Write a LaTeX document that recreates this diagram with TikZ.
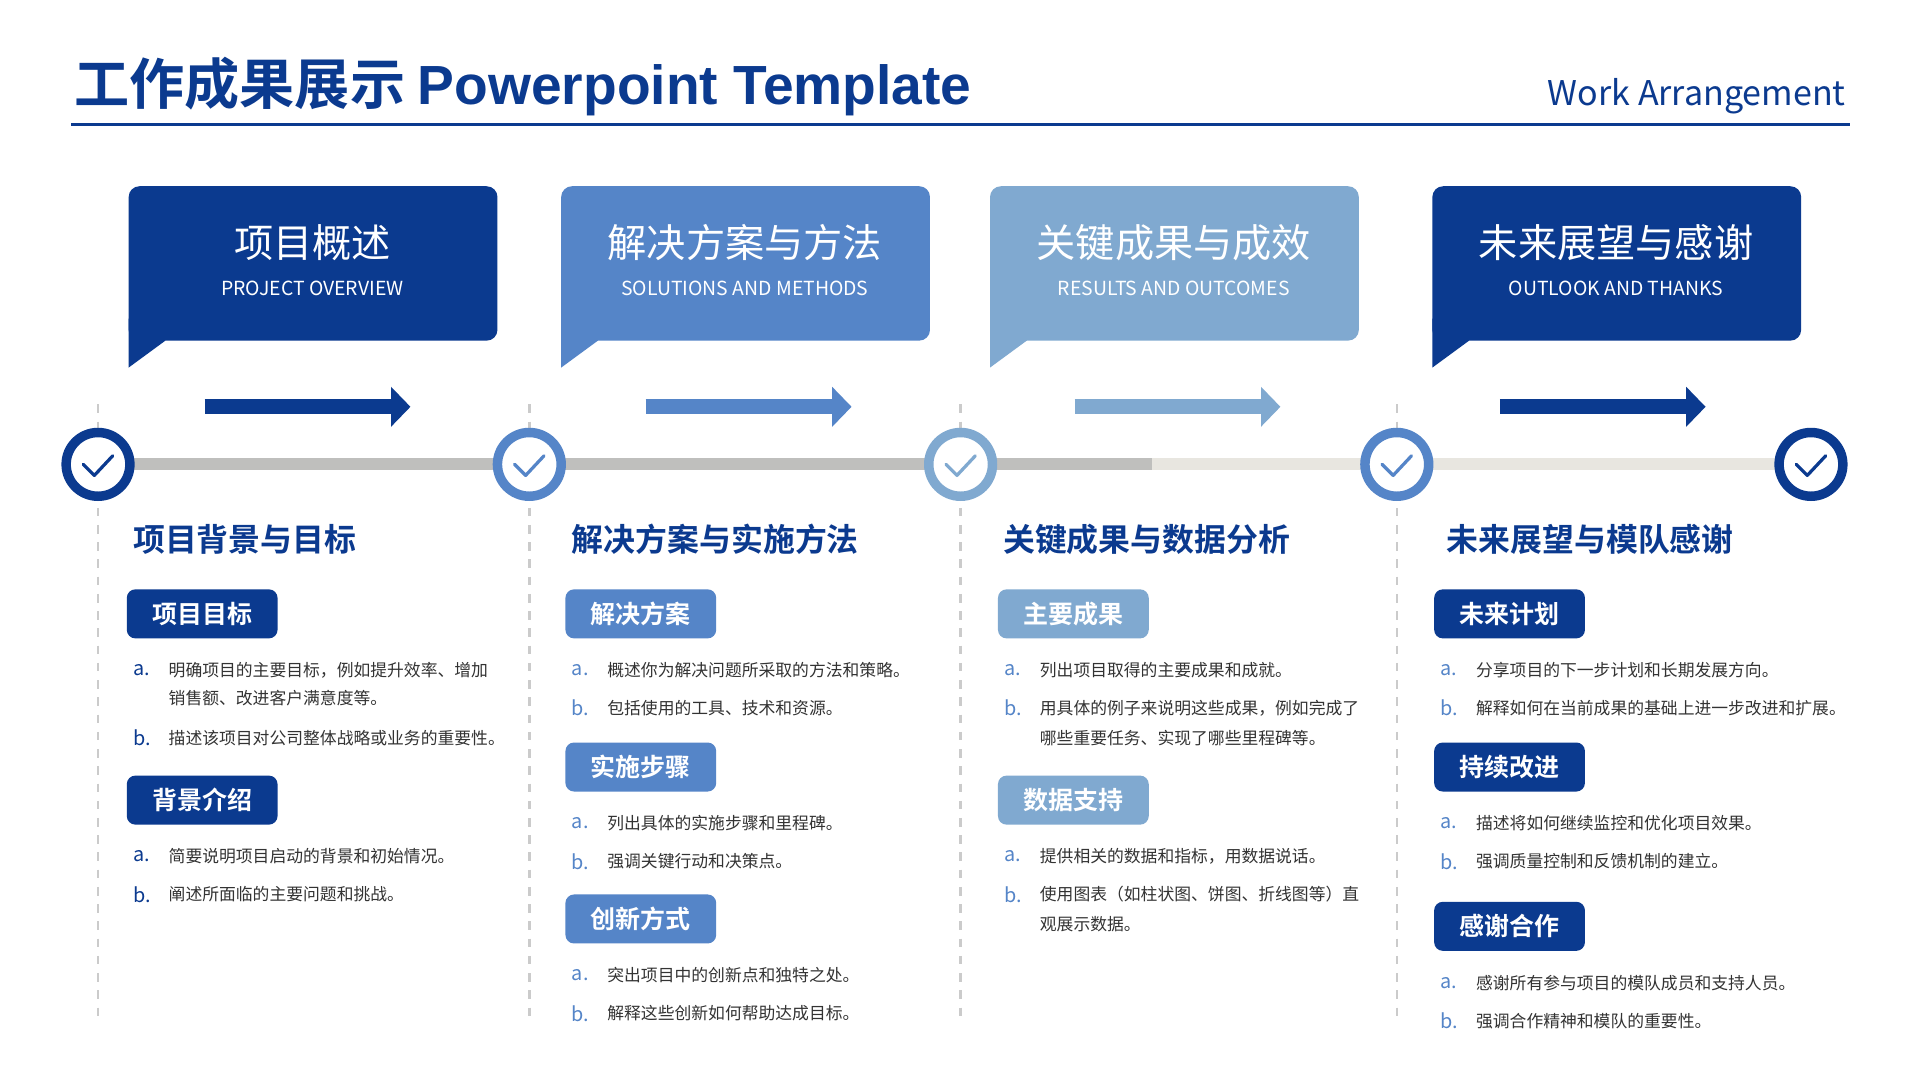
\documentclass[tikz,border=0pt]{standalone}
\usepackage{fontspec}
\setmainfont{Noto Sans CJK SC}
\newfontfamily\cjkb{Noto Sans CJK SC}[BoldFont={* Bold}]
\newfontfamily\latb{Liberation Sans}
\usetikzlibrary{arrows.meta, positioning, calc}

\definecolor{dkblue}{HTML}{0B3A8F}
\definecolor{mdblue}{HTML}{5585C8}
\definecolor{ltblue}{HTML}{80A9D0}
\definecolor{railgray}{HTML}{BFBFBD}
\definecolor{raillight}{HTML}{E8E6E0}
\definecolor{dashgray}{HTML}{CBCBCB}
\definecolor{txtgray}{HTML}{333333}

\newcommand{\fs}[1]{\fontsize{#1}{#1}\selectfont}

\tikzset{
  box cn/.style={white, font=\fs{9.1}},
  box en/.style={white, font=\fs{4.5}},
  heading/.style={anchor=west, inner sep=0pt, dkblue, font=\cjkb\bfseries\fs{7.4}},
  tag/.style={fill=#1, text=white, rounded corners=2pt, minimum width=1.23cm,
    minimum height=0.40cm, inner sep=0pt, font=\cjkb\bfseries\fs{5.8}},
  letter/.style={anchor=west, #1, font=\fs{4.6}, inner sep=0pt},
  item/.style={anchor=west, txtgray, font=\fs{3.9}, inner sep=0pt},
  ring/.style={circle, fill=white, draw=#1, line width=2.2pt, minimum size=0.52cm, inner sep=0pt},
  check/.style={#1, line width=0.75pt, line cap=round, line join=round},
  flow/.style={-{Triangle[length=4.5pt, width=9pt]}, #1, line width=3.4pt}
}

% one list line: x, y, letter colour, letter, text
\newcommand{\itm}[5]{%
  \node[letter=#3] at (#1,#2) {#4.};
  \node[item] at (#1+29,#2) {#5};}
\newcommand{\cont}[3]{\node[item] at (#1+29,#2) {#3};}

\begin{document}
\begin{tikzpicture}[x=0.01cm, y=-0.01cm]
  \useasboundingbox (0,0) rectangle (1567,882);
  \fill[white] (0,0) rectangle (1567,882);

  % Title
  \node[anchor=base west, inner sep=0pt, dkblue, font=\cjkb\bfseries\fs{12.8}] (title) at (60,85)
    {工作成果展示 {\latb\bfseries Powerpoint Template}};
  \node[anchor=base east, inner sep=0pt, dkblue, font=\fs{7.9}] (sub) at (1507,86) {Work Arrangement};
  \draw[dkblue, line width=0.7pt] (58,102) -- (1510,102);

  % Callout boxes
  \foreach \x/\c/\cn/\en [count=\i] in {105/dkblue/项目概述/PROJECT OVERVIEW,
      458/mdblue/解决方案与方法/SOLUTIONS AND METHODS,
      808/ltblue/关键成果与成效/RESULTS AND OUTCOMES,
      1169/dkblue/未来展望与感谢/OUTLOOK AND THANKS} {
    \fill[\c, rounded corners=2.5pt] (\x,152) rectangle (\x+301,278);
    \fill[\c] (\x,260) -- (\x,300) -- (\x+30,278) -- (\x+30,260) -- cycle;
    \node[box cn] (bc\i) at (\x+150,198) {\cn};
    \node[box en] (be\i) at (\x+150,235) {\en};
  }

  % Arrows
  \foreach \x/\c [count=\i] in {167/dkblue, 527/mdblue, 877/ltblue, 1224/dkblue} {
    \coordinate (as\i) at (\x,332);
    \coordinate (ae\i) at (\x+168,332);
    \draw[flow=\c] (as\i) -- (ae\i);
  }

  % Dashed guides
  \foreach \x in {80, 432, 784, 1140}
    \draw[dashgray, line width=0.6pt, dash pattern=on 2pt off 2pt] (\x,330) -- (\x,832);

  % Timeline
  \coordinate (mid) at (940,379);
  \draw[railgray, line width=2.8pt] (80,379) -- (mid);
  \draw[raillight, line width=2.8pt] (mid) -- (1478,379);
  \foreach \x/\c [count=\i] in {80/dkblue, 432/mdblue, 784/ltblue, 1140/mdblue, 1478/dkblue} {
    \node[ring=\c] (c\i) at (\x,379) {};
    \draw[check=\c] (\x-12,379) -- (\x-3,388) -- (\x+12,372);
  }

  % Column headings
  \node[heading] (h1) at (108,440) {项目背景与目标};
  \node[heading] (h2) at (466,440) {解决方案与实施方法};
  \node[heading] (h3) at (818,440) {关键成果与数据分析};
  \node[heading] (h4) at (1180,440) {未来展望与模队感谢};

  % Column 1
  \node[tag=dkblue] (t11) at (165,501) {项目目标};
  \itm{108}{547}{dkblue}{a}{明确项目的主要目标，例如提升效率、增加}
  \cont{108}{570}{销售额、改进客户满意度等。}
  \itm{108}{602}{dkblue}{b}{描述该项目对公司整体战略或业务的重要性。}
  \node[tag=dkblue] (t12) at (165,653) {背景介绍};
  \itm{108}{699}{dkblue}{a}{简要说明项目启动的背景和初始情况。}
  \itm{108}{730}{dkblue}{b}{阐述所面临的主要问题和挑战。}

  % Column 2
  \node[tag=mdblue] (t21) at (523,501) {解决方案};
  \itm{466}{547}{mdblue}{a}{概述你为解决问题所采取的方法和策略。}
  \itm{466}{578}{mdblue}{b}{包括使用的工具、技术和资源。}
  \node[tag=mdblue] (t22) at (523,626) {实施步骤};
  \itm{466}{672}{mdblue}{a}{列出具体的实施步骤和里程碑。}
  \itm{466}{703}{mdblue}{b}{强调关键行动和决策点。}
  \node[tag=mdblue] (t23) at (523,750) {创新方式};
  \itm{466}{796}{mdblue}{a}{突出项目中的创新点和独特之处。}
  \itm{466}{827}{mdblue}{b}{解释这些创新如何帮助达成目标。}

  % Column 3
  \node[tag=ltblue] (t31) at (876,501) {主要成果};
  \itm{819}{547}{mdblue}{a}{列出项目取得的主要成果和成就。}
  \itm{819}{578}{mdblue}{b}{用具体的例子来说明这些成果，例如完成了}
  \cont{819}{602}{哪些重要任务、实现了哪些里程碑等。}
  \node[tag=ltblue] (t32) at (876,653) {数据支持};
  \itm{819}{699}{mdblue}{a}{提供相关的数据和指标，用数据说话。}
  \itm{819}{730}{mdblue}{b}{使用图表（如柱状图、饼图、折线图等）直}
  \cont{819}{754}{观展示数据。}

  % Column 4
  \node[tag=dkblue] (t41) at (1232,501) {未来计划};
  \itm{1175}{547}{mdblue}{a}{分享项目的下一步计划和长期发展方向。}
  \itm{1175}{578}{mdblue}{b}{解释如何在当前成果的基础上进一步改进和扩展。}
  \node[tag=dkblue] (t42) at (1232,626) {持续改进};
  \itm{1175}{672}{mdblue}{a}{描述将如何继续监控和优化项目效果。}
  \itm{1175}{703}{mdblue}{b}{强调质量控制和反馈机制的建立。}
  \node[tag=dkblue] (t43) at (1232,756) {感谢合作};
  \itm{1175}{802}{mdblue}{a}{感谢所有参与项目的模队成员和支持人员。}
  \itm{1175}{833}{mdblue}{b}{强调合作精神和模队的重要性。}
\end{tikzpicture}
\end{document}
